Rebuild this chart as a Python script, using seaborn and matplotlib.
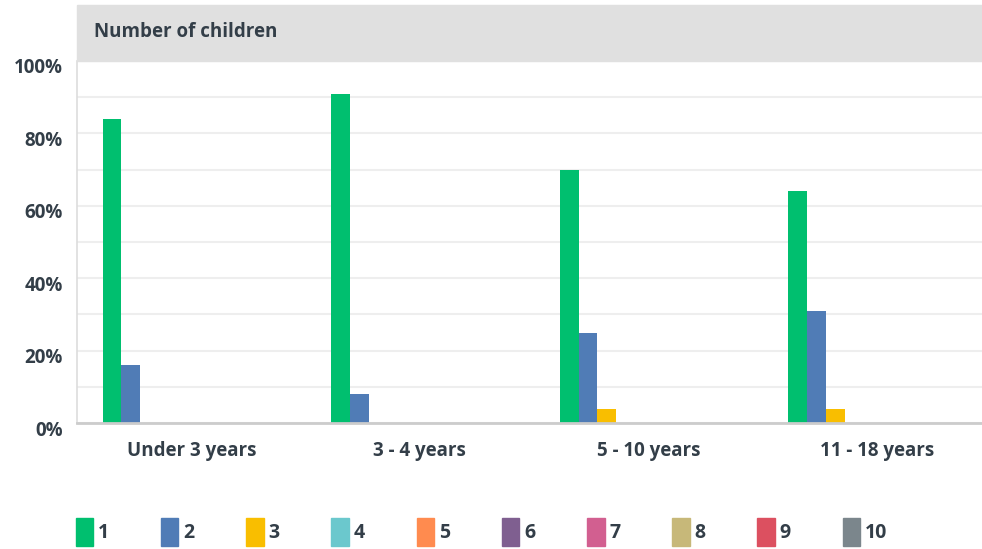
import matplotlib
matplotlib.use("Agg")
import matplotlib.pyplot as plt
import matplotlib.transforms as mtransforms
import pandas as pd
import seaborn as sns
from matplotlib.patches import Rectangle, Patch

ages = ["Under 3 years", "3 - 4 years", "5 - 10 years", "11 - 18 years"]
counts = ["1", "2", "3", "4", "5", "6", "7", "8", "9", "10"]
pct_1 = [84, 91, 70, 64]
pct_2 = [16, 8, 25, 31]
pct_3 = [0, 0, 4, 4]
colors = ["#00bf6f", "#507cb6", "#f9be00", "#6bc8cd", "#ff8b4f",
          "#7f5f90", "#d25f90", "#c7b879", "#dc5060", "#7b868c"]

TXT = "#333e48"


def main():
    sns.set_style("white")
    plt.rcParams["font.family"] = ["Open Sans", "DejaVu Sans"]

    series = {"1": pct_1, "2": pct_2, "3": pct_3}
    rows = []
    for c in counts:
        vals = series.get(c, [0] * len(ages))
        for a, v in zip(ages, vals):
            rows.append({"age": a, "count": c, "pct": v})
    df = pd.DataFrame(rows)

    fig = plt.figure(figsize=(9.82, 5.49), dpi=100)
    W, H = 982, 549
    ax = fig.add_axes([77 / W, 1 - 423 / H, 905 / W, (423 - 61) / H])

    sns.barplot(data=df, x="age", y="pct", hue="count", hue_order=counts,
                palette=colors, width=0.82, saturation=1, ax=ax,
                legend=False, linewidth=0)

    shift = 5 / 228.6
    ax.set_xlim(-0.5 - shift, -0.5 - shift + 905 / 228.6)
    ax.set_ylim(0, 100)
    ax.set_yticks(range(0, 101, 20))
    ax.set_yticks(range(10, 100, 20), minor=True)
    ax.set_yticklabels([f"{v}%" for v in range(0, 101, 20)])
    ax.grid(axis="y", which="both", color="#eeeeee", linewidth=1.5)
    ax.set_axisbelow(True)
    ax.set_xlabel("")
    ax.set_ylabel("")
    ax.tick_params(axis="y", length=0, pad=10, labelsize=13.5, labelcolor=TXT)
    ax.tick_params(axis="y", which="minor", length=0)
    ax.tick_params(axis="x", length=0, pad=13, labelsize=13.5, labelcolor=TXT)
    down = mtransforms.ScaledTranslation(0, -5 / 100, fig.dpi_scale_trans)
    left = mtransforms.ScaledTranslation(-5 / 100, 0, fig.dpi_scale_trans)
    for lab in ax.get_yticklabels():
        lab.set_fontweight("bold")
        lab.set_transform(lab.get_transform() + down)
    for lab in ax.get_xticklabels():
        lab.set_fontweight("bold")
        lab.set_transform(lab.get_transform() + left)
    for s in ["top", "right"]:
        ax.spines[s].set_visible(False)
    ax.spines["left"].set_color("#dddddd")
    ax.spines["left"].set_linewidth(1.2)
    ax.spines["bottom"].set_color("#cccccc")
    ax.spines["bottom"].set_linewidth(2)

    # header band
    fig.patches.append(Rectangle((77 / W, 1 - 61 / H), 905 / W, 56 / H,
                                 transform=fig.transFigure, color="#e0e0e0",
                                 zorder=0))
    fig.text(94 / W, 1 - 32 / H, "Number of children", fontsize=13.5,
             fontweight="bold", color=TXT, va="center", ha="left")

    handles = [Patch(facecolor=c, edgecolor=c, label=l)
               for c, l in zip(colors, counts)]
    leg = fig.legend(handles=handles, loc="center left",
                     bbox_to_anchor=(68 / W, 1 - 532 / H), ncol=10,
                     frameon=False, handlelength=0.9, handleheight=1.8,
                     handletextpad=0.25, columnspacing=2.66, fontsize=14,
                     borderaxespad=0)
    for t in leg.get_texts():
        t.set_color(TXT)
        t.set_fontweight("bold")

    fig.savefig("out.png", dpi=100)


if __name__ == "__main__":
    main()
